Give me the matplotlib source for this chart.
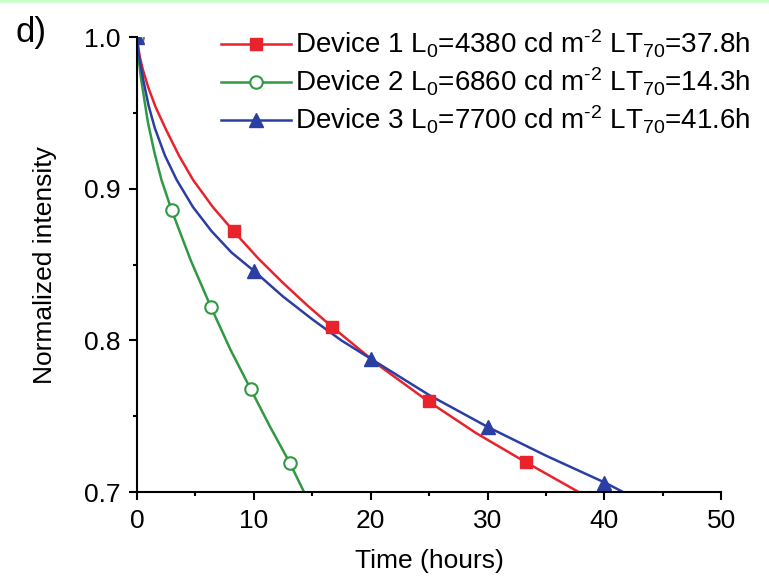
#!/usr/bin/env python3
# Normalized intensity vs time for three devices (panel d)
import matplotlib
matplotlib.use("Agg")
import matplotlib.pyplot as plt
from matplotlib.patches import Rectangle
from matplotlib.ticker import MultipleLocator

plt.rcParams['font.family'] = ['Liberation Sans', 'DejaVu Sans']
plt.rcParams['mathtext.fontset'] = 'custom'
plt.rcParams['mathtext.rm'] = 'Liberation Sans'
plt.rcParams['mathtext.it'] = 'Liberation Sans:italic'

# curve points (time in hours, normalized intensity)
dev1_t = [0, 0.1, 0.25, 0.5, 0.97, 1.6, 2.5, 3.6, 4.8, 6.5, 8.4, 10.4, 12.5, 14.6, 16.7, 20.8, 24.9, 29.0, 33.2, 37.8]
dev1_y = [1.0, 0.994, 0.987, 0.979, 0.967, 0.954, 0.939, 0.922, 0.906, 0.888, 0.871, 0.854, 0.838, 0.823, 0.809, 0.783, 0.760, 0.739, 0.720, 0.700]
dev2_t = [0, 0.1, 0.35, 0.94, 1.5, 2.1, 2.97, 4.6, 6.34, 8.0, 9.73, 11.4, 13.1, 14.3]
dev2_y = [1.0, 0.989, 0.973, 0.944, 0.924, 0.906, 0.886, 0.853, 0.822, 0.794, 0.768, 0.743, 0.719, 0.700]
dev3_t = [0, 0.2, 0.54, 1.0, 1.54, 2.4, 3.4, 4.8, 6.4, 8.1, 10.0, 12.5, 15.0, 17.5, 20.0, 25.0, 30.0, 35.0, 40.1, 41.6]
dev3_y = [1.0, 0.987, 0.972, 0.955, 0.940, 0.922, 0.906, 0.888, 0.872, 0.858, 0.846, 0.829, 0.814, 0.800, 0.788, 0.764, 0.743, 0.724, 0.706, 0.700]

# marker positions
dev1_mt = [0, 8.33, 16.67, 25.0, 33.3]
dev1_my = [1.0, 0.872, 0.809, 0.760, 0.720]
dev2_mt = [0, 2.97, 6.34, 9.73, 13.1]
dev2_my = [1.0, 0.886, 0.822, 0.768, 0.719]
dev3_mt = [0, 10, 20, 30, 40]
dev3_my = [1.0, 0.846, 0.788, 0.743, 0.706]

labels = [
    r'Device 1 L$_0$=4380 cd m$^{\text{-2}}$ LT$_{\mathit{70}}$=37.8h',
    r'Device 2 L$_0$=6860 cd m$^{\text{-2}}$ LT$_{\mathit{70}}$=14.3h',
    r'Device 3 L$_0$=7700 cd m$^{\text{-2}}$ LT$_{\mathit{70}}$=41.6h',
]

red = '#e8232b'
green = '#2f9a43'
blue = '#2b3ea3'
fs = 19

fig = plt.figure(figsize=(7.69, 5.83), dpi=100)
ax = fig.add_axes([0.178, 0.156, 0.760, 0.780])

ax.plot(dev1_t, dev1_y, color=red, lw=1.8)
ax.plot(dev2_t, dev2_y, color=green, lw=1.8)
ax.plot(dev3_t, dev3_y, color=blue, lw=1.8)
ax.plot(dev1_mt, dev1_my, ls='none', marker='s', ms=9, color=red)
ax.plot(dev2_mt, dev2_my, ls='none', marker='o', ms=9, mfc='white', mec=green, mew=1.5)
ax.plot(dev3_mt, dev3_my, ls='none', marker='^', ms=10, color=blue)

# legend proxies (line + marker)
h1, = ax.plot([], [], color=red, lw=1.8, marker='s', ms=9)
h2, = ax.plot([], [], color=green, lw=1.8, marker='o', ms=9, mfc='white', mec=green, mew=1.5)
h3, = ax.plot([], [], color=blue, lw=1.8, marker='^', ms=10)
fig.legend([h1, h2, h3], labels, loc='upper left', bbox_to_anchor=(0.288, 0.952),
           frameon=False, fontsize=20, handlelength=2.5, handletextpad=0.15,
           labelspacing=0.2, borderaxespad=0, borderpad=0)

ax.set_xlim(0, 50)
ax.set_ylim(0.7, 1.0)
ax.xaxis.set_major_locator(MultipleLocator(10))
ax.xaxis.set_minor_locator(MultipleLocator(5))
ax.yaxis.set_major_locator(MultipleLocator(0.1))
ax.yaxis.set_minor_locator(MultipleLocator(0.05))
ax.yaxis.set_major_formatter(plt.FormatStrFormatter('%.1f'))
ax.spines['top'].set_visible(False)
ax.spines['right'].set_visible(False)
for s in ('left', 'bottom'):
    ax.spines[s].set_linewidth(1.5)
ax.tick_params(which='major', direction='out', length=6, width=1.5, labelsize=fs, pad=6)
ax.tick_params(which='minor', direction='out', length=3, width=1.5)

ax.set_xlabel('Time (hours)', fontsize=fs, labelpad=12)
ax.set_ylabel('Normalized intensity', fontsize=fs, labelpad=19)

fig.text(0.02, 0.945, 'd)', fontsize=25, va='center', ha='left')
fig.add_artist(Rectangle((0, 0.994), 1, 0.006, transform=fig.transFigure,
                         color='#ccffcc', lw=0))

fig.savefig('out.png', dpi=100)
